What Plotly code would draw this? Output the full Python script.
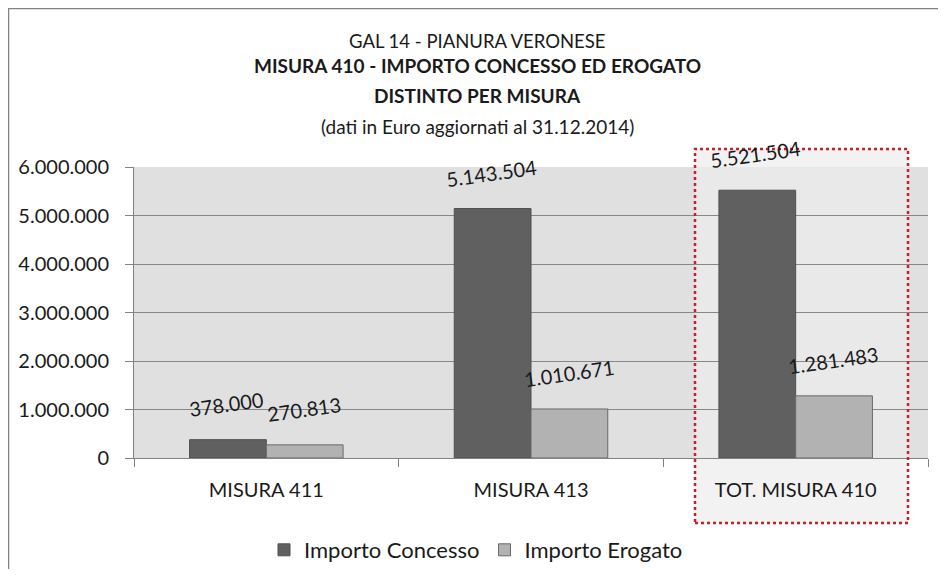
import plotly.graph_objects as go

# dati
categorie = ['MISURA 411', 'MISURA 413', 'TOT. MISURA 410']
concesso = [378000, 5143504, 5521504]
erogato = [270813, 1010671, 1281483]
etichette_concesso = ['378.000', '5.143.504', '5.521.504']
etichette_erogato = ['270.813', '1.010.671', '1.281.483']
tick_valori = [0, 1000000, 2000000, 3000000, 4000000, 5000000, 6000000]
tick_testi = ['0', '1.000.000', '2.000.000', '3.000.000', '4.000.000', '5.000.000', '6.000.000']

FONT = 'Lato'
NERO = '#1a1a1a'
# la pagina ha 8px di margine: figura un po' piu' piccola della finestra
W, H = 930, 561
L, R, T, B = 126, 10, 159, 111
pw, ph = W - L - R, H - T - B


def px(x):
    # coordinata pixel della finestra -> paper
    return (x - 8 - L) / pw


def py(y):
    return (T + ph + 8 - y) / ph


fig = go.Figure()

fig.add_trace(go.Bar(x=categorie, y=concesso, name='Importo Concesso',
                     marker=dict(color='rgb(96,96,96)', line=dict(color='rgb(80,80,80)', width=1)),
                     hoverinfo='skip'))
fig.add_trace(go.Bar(x=categorie, y=erogato, name='Importo Erogato',
                     marker=dict(color='rgb(178,178,178)', line=dict(color='rgb(105,105,105)', width=1)),
                     hoverinfo='skip'))

# etichette dei valori, ruotate come in Excel
annotations = []
for i in range(len(categorie)):
    annotations.append(dict(x=categorie[i], y=concesso[i], xref='x', yref='y',
                            text=etichette_concesso[i], showarrow=False, textangle=-8,
                            xshift=-40, yshift=36, font=dict(family=FONT, size=20, color=NERO)))
    annotations.append(dict(x=categorie[i], y=erogato[i], xref='x', yref='y',
                            text=etichette_erogato[i], showarrow=False, textangle=-8,
                            xshift=38, yshift=36, font=dict(family=FONT, size=20, color=NERO)))

# titolo su quattro righe
titoli = [
    ('GAL 14 - PIANURA VERONESE', 18.5, False, 41),
    ('MISURA 410 - IMPORTO CONCESSO ED EROGATO', 19, True, 66),
    ('DISTINTO PER MISURA', 19, True, 95),
    ('(dati in Euro aggiornati al 31.12.2014)', 19, False, 126),
]
for testo, size, bold, ypix in titoli:
    annotations.append(dict(x=px(477), y=py(ypix), xref='paper', yref='paper',
                            text='<b>%s</b>' % testo if bold else testo, showarrow=False,
                            xanchor='center', yanchor='middle',
                            font=dict(family=FONT, size=size, color=NERO)))

box = dict(x0=px(695), x1=px(908), y0=py(523), y1=py(149))
shapes = [
    # sfondo area del grafico
    dict(type='rect', xref='paper', yref='paper', x0=0, x1=1, y0=0, y1=1,
         fillcolor='rgb(224,224,224)', line=dict(width=0), layer='below'),
    # riquadro evidenziato
    dict(type='rect', xref='paper', yref='paper', **box,
         fillcolor='rgb(242,242,242)', line=dict(width=0), layer='below'),
    dict(type='rect', xref='paper', yref='paper', x0=box['x0'], x1=box['x1'], y0=0, y1=1,
         fillcolor='rgb(233,233,233)', line=dict(width=0), layer='below'),
    dict(type='rect', xref='paper', yref='paper', **box,
         fillcolor='rgba(0,0,0,0)', line=dict(color='rgb(200,30,45)', width=2.5, dash='dot'),
         layer='above'),
    # bordo esterno
    dict(type='rect', xref='paper', yref='paper', x0=px(8.5), x1=px(980), y0=py(620), y1=py(8.5),
         fillcolor='rgba(0,0,0,0)', line=dict(color='rgb(130,130,130)', width=1.5), layer='below'),
]

fig.update_layout(
    width=W, height=H,
    margin=dict(l=L, r=R, t=T, b=B, pad=0, autoexpand=False),
    paper_bgcolor='white',
    plot_bgcolor='rgba(0,0,0,0)',
    barmode='group',
    bargap=0.42,
    bargroupgap=0,
    font=dict(family=FONT, color=NERO),
    annotations=annotations,
    shapes=shapes,
    showlegend=True,
    legend=dict(orientation='h', x=px(476), xanchor='center', y=py(550), yanchor='middle',
                font=dict(family=FONT, size=22, color=NERO), itemwidth=30,
                bgcolor='rgba(0,0,0,0)'),
)

fig.update_xaxes(
    showgrid=False, showline=True, linecolor='rgb(130,130,130)', linewidth=1,
    ticks='outside', tickson='boundaries', ticklen=8, tickcolor='rgb(130,130,130)',
    tickfont=dict(family=FONT, size=20, color=NERO), ticklabelstandoff=14,
)
fig.update_yaxes(
    range=[0, 6000000], tickvals=tick_valori, ticktext=tick_testi,
    showgrid=True, gridcolor='rgb(135,135,135)', gridwidth=1,
    zeroline=False, showline=True, linecolor='rgb(130,130,130)', linewidth=1,
    ticks='outside', ticklen=8, tickcolor='rgb(130,130,130)',
    tickfont=dict(family=FONT, size=20, color=NERO), ticklabelstandoff=12,
)

fig.write_html('out.html')
